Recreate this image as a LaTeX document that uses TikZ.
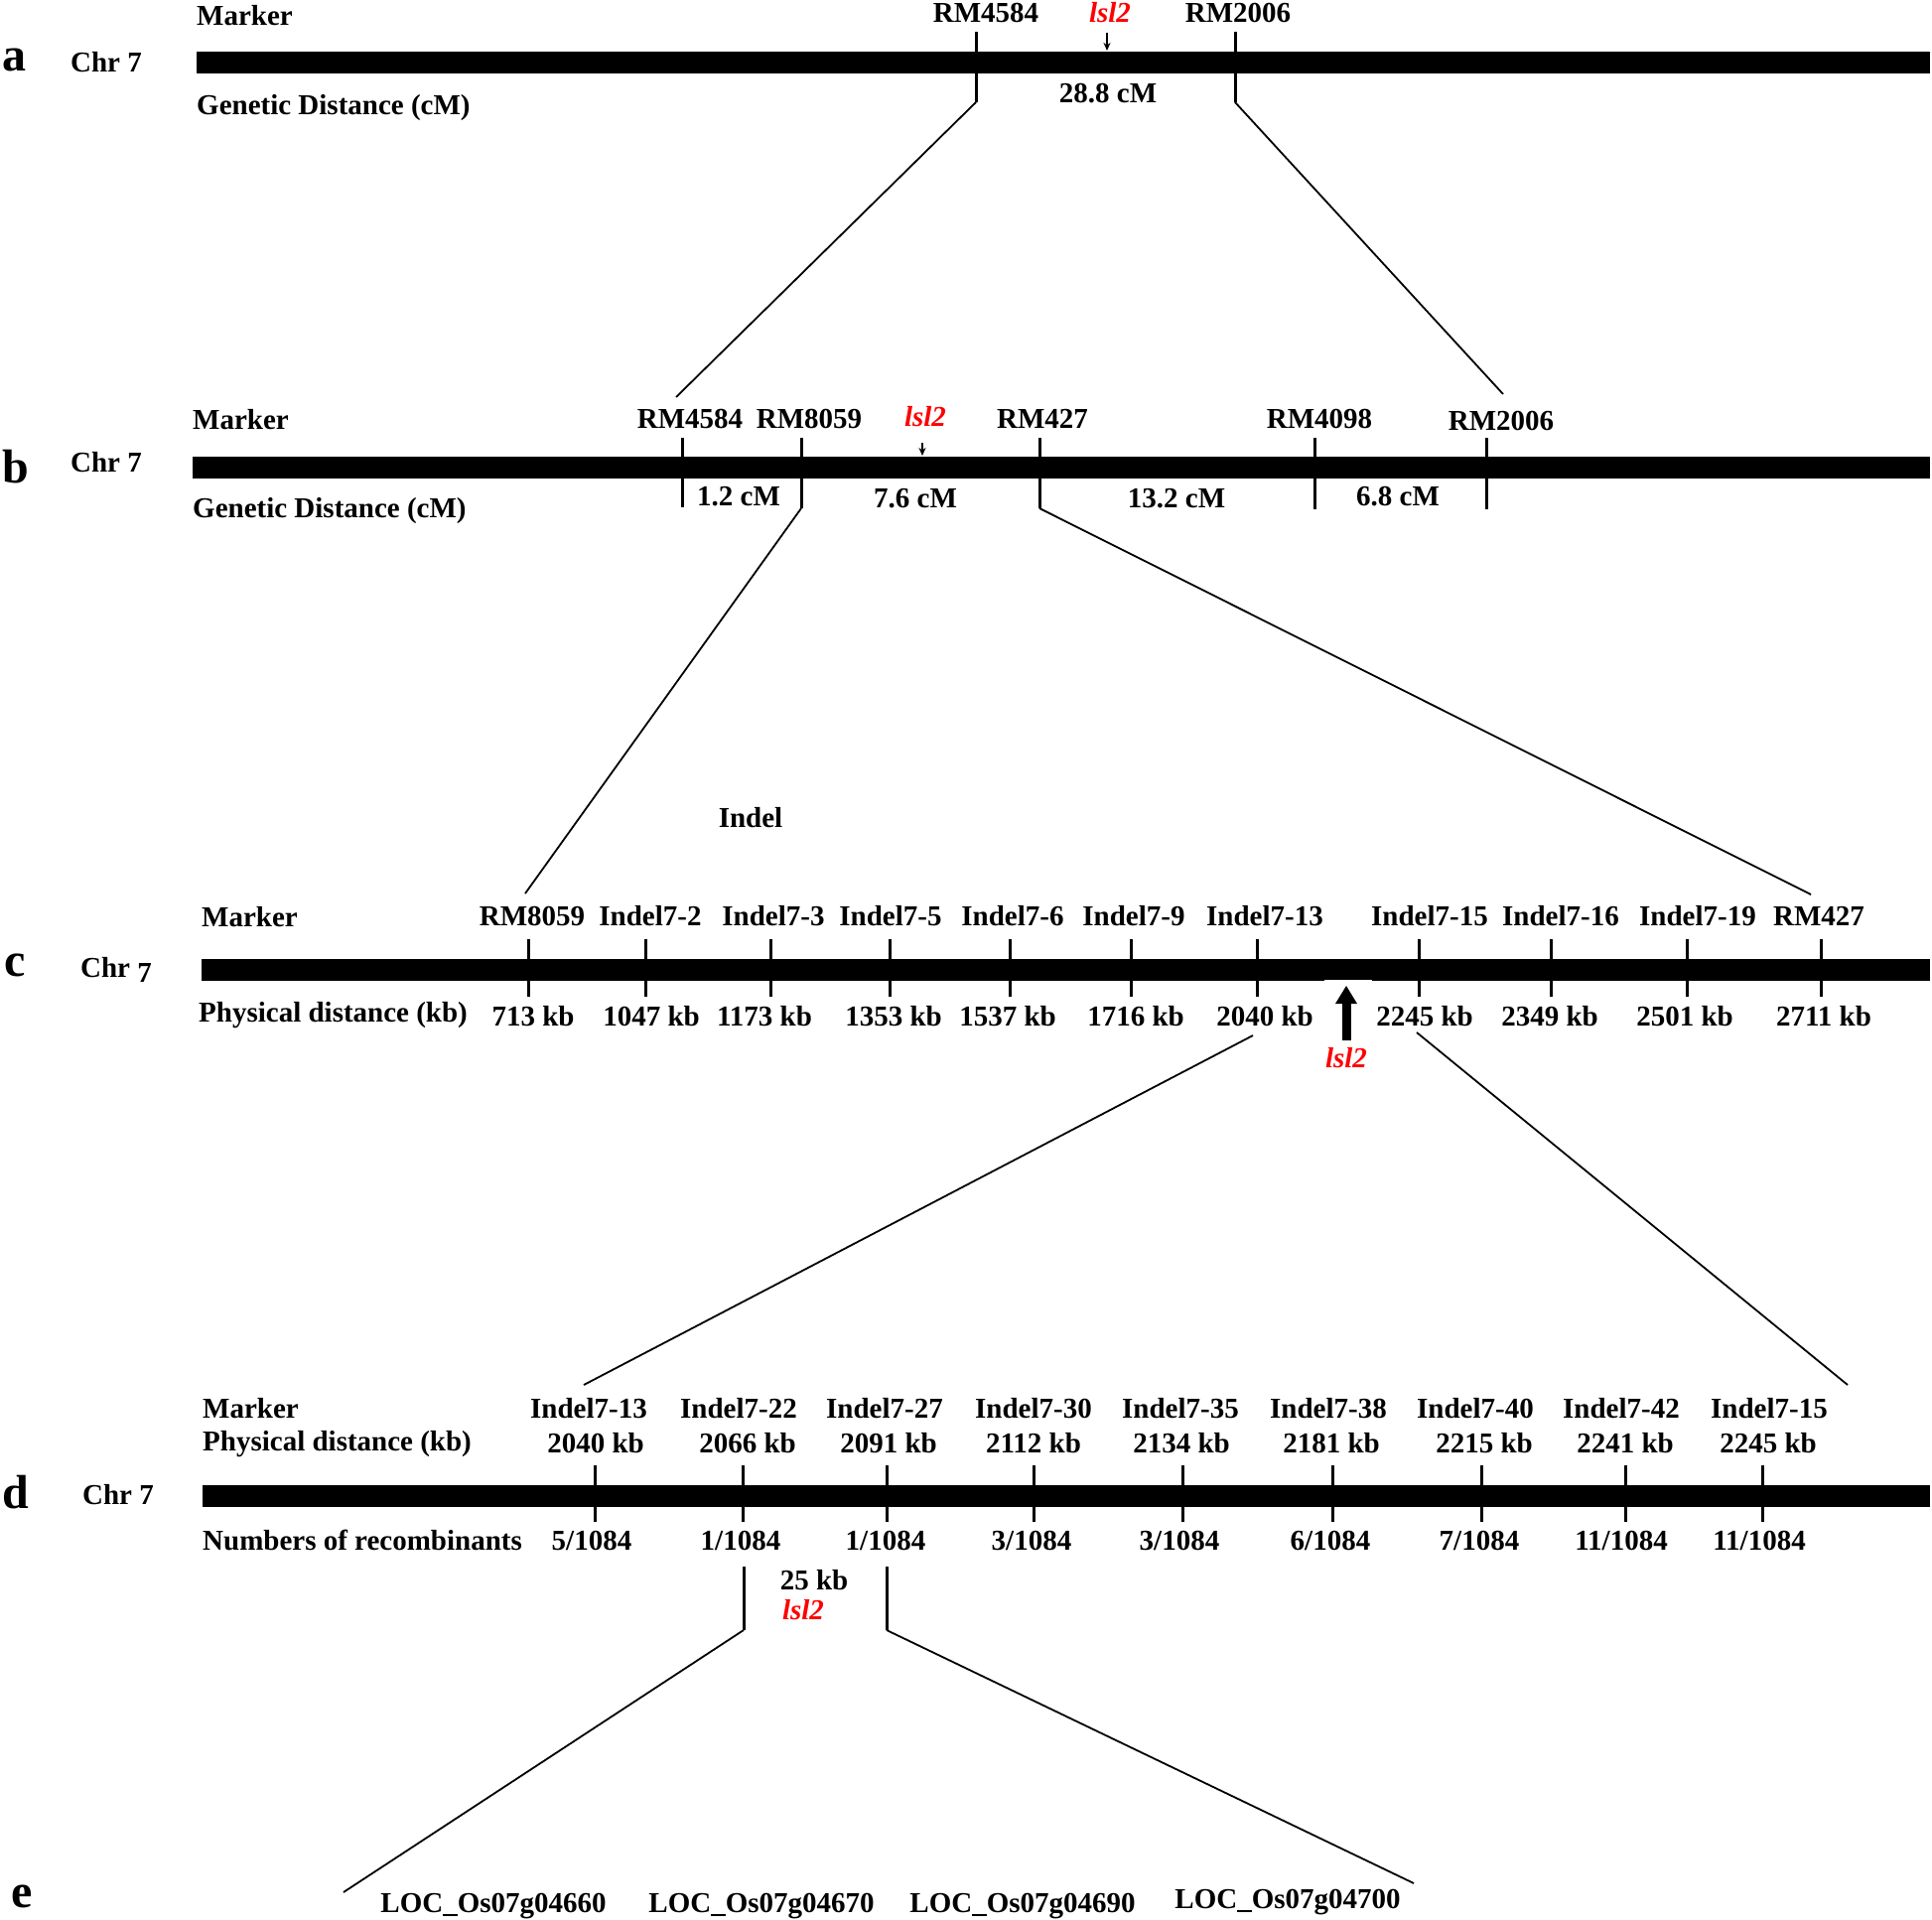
\documentclass[tikz,border=0pt]{standalone}
\usepackage{fontspec}
\setmainfont{Liberation Serif}
\usetikzlibrary{arrows.meta}
\begin{document}
\begin{tikzpicture}[x=1pt,y=-1pt,
  lbl/.style={font=\fontsize{29}{34}\selectfont\bfseries, inner sep=0pt, text height=19pt, text depth=0pt},
  lft/.style={lbl, anchor=west},
  gene/.style={lbl, text=red, font=\fontsize{29}{34}\selectfont\bfseries\itshape},
  panel/.style={font=\fontsize{48}{52}\selectfont\bfseries, inner sep=0pt},
  tickln/.style={line width=3pt},
  conn/.style={line width=1.8pt},
  barfill/.style={fill=black},
  smallarr/.style={line width=1.6pt,-{Stealth[length=8pt,width=7pt]}}]
\useasboundingbox (0,0) rectangle (1946,1934);

% ---------------- panel a
\node[panel] (pa) at (14,60) {a};
\node[lbl] (chra) at (107,63) {Chr 7};
\node[lft] (mka) at (198,16) {Marker};
\node[lft] (gda) at (198,106) {Genetic Distance (cM)};
\fill[barfill] (198,52) rectangle (1944,74);
\draw[tickln] (983,32) -- (983,103) coordinate (a1b);
\draw[tickln] (1244,32) -- (1244,103) coordinate (a2b);
\node[lbl] (ma1) at (993,13) {RM4584};
\node[gene] (ga) at (1118,13) {lsl2};
\node[lbl] (ma2) at (1247,13) {RM2006};
\coordinate (gaa) at (1115,33);
\coordinate (gab) at (1115,51);
\draw[smallarr] (gaa) -- (gab);
\node[lbl] (cma) at (1116,94) {28.8 cM};

% connectors a -> b
\coordinate (b1t) at (681,400);
\coordinate (b2t) at (1514,397);
\draw[conn] (a1b) -- (b1t);
\draw[conn] (a2b) -- (b2t);

% ---------------- panel b
\node[panel] (pb) at (16,470) {b};
\node[lbl] (chrb) at (107,466) {Chr 7};
\node[lft] (mkb) at (194,423) {Marker};
\node[lft] (gdb) at (194,512) {Genetic Distance (cM)};
\fill[barfill] (194,460) rectangle (1944,482);
\draw[tickln] (687.5,441) -- (687.5,511) coordinate (b1b);
\draw[tickln] (807,441) -- (807,512) coordinate (b2b);
\draw[tickln] (1047,441) -- (1047,512) coordinate (b3b);
\draw[tickln] (1324,441) -- (1324,513) coordinate (b4b);
\draw[tickln] (1497,441) -- (1497,513) coordinate (b5b);
\node[lbl] (mb1) at (695,422) {RM4584};
\node[lbl] (mb2) at (815,422) {RM8059};
\node[gene] (gb) at (932,420) {lsl2};
\node[lbl] (mb3) at (1050,422) {RM427};
\node[lbl] (mb4) at (1329,422) {RM4098};
\node[lbl] (mb5) at (1512,424) {RM2006};
\coordinate (gba) at (929,446);
\coordinate (gbb) at (929,459);
\draw[smallarr] (gba) -- (gbb);
\node[lbl] (db1) at (744,500) {1.2 cM};
\node[lbl] (db2) at (922,502) {7.6 cM};
\node[lbl] (db3) at (1185,502) {13.2 cM};
\node[lbl] (db4) at (1408,500) {6.8 cM};

% connectors b -> c
\coordinate (c1t) at (529,900);
\coordinate (c2t) at (1824,901);
\draw[conn] (b2b) -- (c1t);
\draw[conn] (b3b) -- (c2t);

\node[lbl] (indel) at (756,824) {Indel};

% ---------------- panel c
\node[panel] (pc) at (15,972) {c};
\node[lbl] (chrc) at (117,975) {Chr \raisebox{-5pt}{7}};
\node[lft] (mkc) at (203,924) {Marker};
\node[lft] (pdc) at (200,1020) {Physical distance (kb)};
\fill[barfill] (203,966) rectangle (1944,988);
\draw[white, line width=1.5pt] (1334,988) -- (1382,988);
\foreach \x/\m/\mx/\d/\dx [count=\i] in {
  532.5/RM8059/536/713 kb/537,
  650.5/Indel7-2/655/1047 kb/656,
  776/Indel7-3/779/1173 kb/770,
  896/Indel7-5/897/1353 kb/900,
  1017/Indel7-6/1020/1537 kb/1015,
  1139/Indel7-9/1142/1716 kb/1144,
  1266/Indel7-13/1274/2040 kb/1274,
  1429/Indel7-15/1440/2245 kb/1435,
  1562/Indel7-16/1572/2349 kb/1561,
  1699/Indel7-19/1710/2501 kb/1697,
  1834/RM427/1832/2711 kb/1837}{
  \draw[tickln] (\x,946) -- (\x,1004);
  \node[lbl] (mc\i) at (\mx,923) {\m};
  \node[lbl] (dc\i) at (\dx,1024) {\d};
}
\fill[black] (1351.5,1048) rectangle (1360.5,1008);
\fill[black] (1345,1011) -- (1367,1011) -- (1356,993) -- cycle;
\node[gene] (gc) at (1356,1066) {lsl2};

% connectors c -> d
\coordinate (c13b) at (1262,1043);
\coordinate (c15b) at (1427,1040);
\coordinate (d1t) at (588,1395);
\coordinate (d2t) at (1861,1395);
\draw[conn] (c13b) -- (d1t);
\draw[conn] (c15b) -- (d2t);

% ---------------- panel d
\node[panel] (pd) at (16,1503) {d};
\node[lbl] (chrd) at (119,1506) {Chr 7};
\node[lft] (mkd) at (204,1419) {Marker};
\node[lft] (pdd) at (204,1452) {Physical distance (kb)};
\node[lft] (nrd) at (204,1552) {Numbers of recombinants};
\fill[barfill] (204,1496) rectangle (1944,1518);
\foreach \x/\m/\mx/\k/\kx/\r/\rx [count=\i] in {
  599.5/Indel7-13/593/2040 kb/600/5\slash1084/596,
  748/Indel7-22/744/2066 kb/753/1\slash1084/746,
  893/Indel7-27/891/2091 kb/895/1\slash1084/892,
  1041/Indel7-30/1041/2112 kb/1041/3\slash1084/1039,
  1191/Indel7-35/1189/2134 kb/1190/3\slash1084/1188,
  1342/Indel7-38/1338/2181 kb/1341/6\slash1084/1340,
  1492/Indel7-40/1486/2215 kb/1495/7\slash1084/1490,
  1637/Indel7-42/1633/2241 kb/1637/11\slash1084/1633,
  1775/Indel7-15/1782/2245 kb/1781/11\slash1084/1772}{
  \draw[tickln] (\x,1476) -- (\x,1533);
  \node[lbl] (md\i) at (\mx,1419) {\m};
  \node[lbl] (kd\i) at (\kx,1454) {\k};
  \node[lbl] (rd\i) at (\rx,1552) {\r};
}
\draw[tickln] (749,1578) -- (749,1642) coordinate (dl);
\draw[tickln] (893,1578) -- (893,1642) coordinate (dr);
\node[lbl] (kb25) at (820,1592) {25 kb};
\node[gene] (gd) at (809,1622) {lsl2};

% connectors d -> e
\coordinate (e1t) at (346,1906);
\coordinate (e2t) at (1424,1897);
\draw[conn] (dl) -- (e1t);
\draw[conn] (dr) -- (e2t);

% ---------------- panel e
\node[panel] (pe) at (22,1910) {e};
\node[lbl] (loc1) at (497,1917) {LOC\_Os07g04660};
\node[lbl] (loc2) at (767,1917) {LOC\_Os07g04670};
\node[lbl] (loc3) at (1030,1917) {LOC\_Os07g04690};
\node[lbl] (loc4) at (1297,1913) {LOC\_Os07g04700};
\end{tikzpicture}
\end{document}
